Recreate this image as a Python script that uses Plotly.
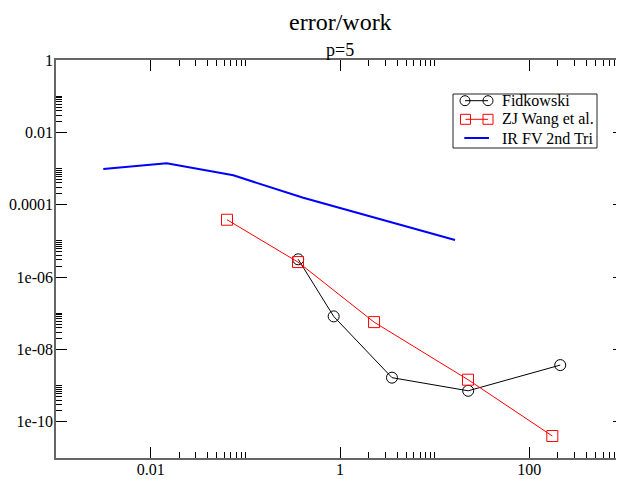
import plotly.graph_objects as go

# Data (log-log)
fid_x = [0.362, 0.857, 3.54, 22.6, 212]
fid_y = [3.1e-6, 8.2e-8, 1.66e-9, 7.2e-10, 3.7e-9]

wang_x = [0.064, 0.36, 2.29, 22.5, 175]
wang_y = [3.85e-5, 2.6e-6, 5.7e-8, 1.46e-9, 4.05e-11]

irfv_x = [0.00316, 0.01476, 0.0747, 0.409, 16.4]
irfv_y = [9.7e-4, 1.40e-3, 6.5e-4, 1.56e-4, 1.06e-5]

series_names = ["Fidkowski", "ZJ Wang et al.", "IR FV 2nd Tri"]

x_ticks = [0.01, 1, 100]
x_ticktext = ["0.01", "1", "100"]
y_ticks = [1, 1e-2, 1e-4, 1e-6, 1e-8, 1e-10]
y_ticktext = ["1", "0.01", "0.0001", "1e-06", "1e-08", "1e-10"]

FONT = "Liberation Serif"

def minor_vals(majors):
    vals = []
    for m in majors:
        for k in range(2, 11):
            vals.append(m * k)
    return vals

x_minor = minor_vals([1e-4] + x_ticks)
y_minor = minor_vals(y_ticks + [1e-12])

# geometry (page is offset by the 8px body margin)
PLOT_L, PLOT_T, PLOT_W, PLOT_H = 56, 60, 568, 398

def fx(X):
    return (X - PLOT_L) / PLOT_W

def fy(Y):
    return 1 - (Y - PLOT_T) / PLOT_H

fig = go.Figure()
fig.add_trace(go.Scatter(
    x=fid_x, y=fid_y, mode="lines+markers", name=series_names[0],
    line=dict(color="black", width=1),
    marker=dict(symbol="circle-open", size=11, color="black", line=dict(width=1)),
))
fig.add_trace(go.Scatter(
    x=wang_x, y=wang_y, mode="lines+markers", name=series_names[1],
    line=dict(color="red", width=1),
    marker=dict(symbol="square-open", size=11, color="red", line=dict(width=1)),
))
fig.add_trace(go.Scatter(
    x=irfv_x, y=irfv_y, mode="lines", name=series_names[2],
    line=dict(color="blue", width=2),
))

axis_common = dict(
    type="log",
    automargin=False,
    showgrid=False,
    zeroline=False,
    showline=True,
    linecolor="#666666",
    linewidth=1.5,
    mirror="ticks",
    ticks="inside",
    ticklen=11,
    tickwidth=1,
    tickcolor="black",
    tickfont=dict(family=FONT, size=16, color="black"),
    tickmode="array",
)

fig.update_xaxes(
    **axis_common,
    range=[-3, 3],
    tickvals=x_ticks,
    ticktext=x_ticktext,
    ticklabelstandoff=-4,
    minor=dict(tickmode="array", tickvals=x_minor, ticks="inside", ticklen=6,
               tickwidth=1, tickcolor="black", showgrid=False),
)
fig.update_yaxes(
    **axis_common,
    range=[-11, 0],
    tickvals=y_ticks,
    ticktext=y_ticktext,
    ticklabelstandoff=-2,
    minor=dict(tickmode="array", tickvals=y_minor, ticks="inside", ticklen=6,
               tickwidth=1, tickcolor="black", showgrid=False),
)

# custom legend (Grace style: marker at both ends of the sample line)
shapes = []
annotations = []
shapes.append(dict(type="rect", xref="paper", yref="paper",
                   x0=fx(453), x1=fx(597), y0=fy(148), y1=fy(94),
                   line=dict(color="#222222", width=1), fillcolor="white", layer="above"))
rows = [100.7, 119.3, 138.0]
# Fidkowski
shapes.append(dict(type="line", xref="paper", yref="paper",
                   x0=fx(465), x1=fx(488), y0=fy(rows[0]), y1=fy(rows[0]),
                   line=dict(color="black", width=1)))
for cx in (465, 488):
    shapes.append(dict(type="circle", xref="paper", yref="paper",
                       xsizemode="pixel", ysizemode="pixel",
                       xanchor=fx(cx), yanchor=fy(rows[0]),
                       x0=-5, x1=5, y0=-5, y1=5,
                       line=dict(color="black", width=1), fillcolor="rgba(0,0,0,0)"))
# ZJ Wang
shapes.append(dict(type="line", xref="paper", yref="paper",
                   x0=fx(465.5), x1=fx(488), y0=fy(rows[1]), y1=fy(rows[1]),
                   line=dict(color="red", width=1)))
for cx in (465.5, 488):
    shapes.append(dict(type="rect", xref="paper", yref="paper",
                       xsizemode="pixel", ysizemode="pixel",
                       xanchor=fx(cx), yanchor=fy(rows[1]),
                       x0=-5, x1=5, y0=-5, y1=5,
                       line=dict(color="red", width=1), fillcolor="rgba(0,0,0,0)"))
# IR FV
shapes.append(dict(type="line", xref="paper", yref="paper",
                   x0=fx(464.3), x1=fx(489), y0=fy(rows[2]), y1=fy(rows[2]),
                   line=dict(color="blue", width=2)))
for name, ry in zip(series_names, rows):
    annotations.append(dict(text=name, xref="paper", yref="paper",
                            x=fx(499.5), y=fy(ry), xanchor="left", yanchor="middle",
                            showarrow=False, font=dict(family=FONT, size=16, color="black")))

annotations.append(dict(text="error/work", xref="paper", yref="paper", x=0.5, y=1,
                        yshift=38, showarrow=False, yanchor="middle",
                        font=dict(family=FONT, size=24, color="black")))
annotations.append(dict(text="p=5", xref="paper", yref="paper", x=0.5, y=1,
                        yshift=10, showarrow=False, yanchor="middle",
                        font=dict(family=FONT, size=18, color="black")))

fig.update_layout(
    width=616,
    height=471,
    margin=dict(l=PLOT_L - 8, r=0, t=PLOT_T - 8, b=471 - (PLOT_T - 8) - PLOT_H,
                autoexpand=False),
    paper_bgcolor="white",
    plot_bgcolor="white",
    font=dict(family=FONT, color="black"),
    showlegend=False,
    shapes=shapes,
    annotations=annotations,
)

fig.write_html("out.html")
